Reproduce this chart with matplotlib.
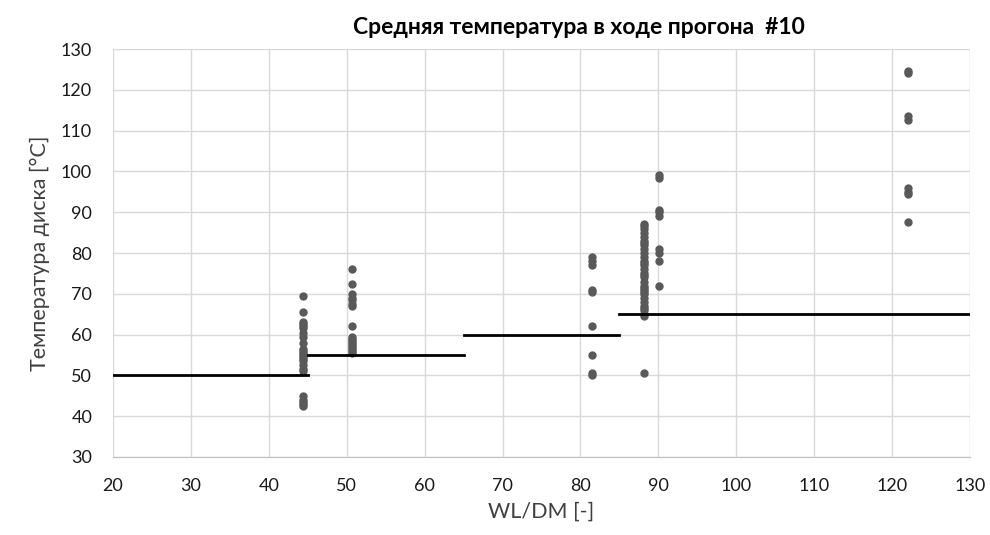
import numpy as np
import matplotlib
matplotlib.use("Agg")
import matplotlib.pyplot as plt

plt.rcParams["font.family"] = ["Lato", "DejaVu Sans"]

# measured points, grouped by WL/DM value
x_groups = [44.4, 50.7, 81.5, 88.2, 90.1, 122.1]
y_groups = [
    [69.5, 65.5, 63, 62.5, 62, 61.5, 60.5, 59.5, 58, 56.5, 56, 55.5, 55, 54.5,
     54, 53.5, 52.5, 51.5, 51, 45, 44, 43.5, 43, 42.5],
    [76, 72.5, 70, 69, 68.5, 67.5, 67, 62, 59.5, 59, 58.5, 58, 57.5, 57, 56.5,
     56, 55.5],
    [79, 78, 77, 71, 70.5, 62, 55, 50.5, 50],
    [87, 86.5, 86, 85, 84, 83, 82.5, 82, 81, 80, 79, 78, 77.5, 77, 76, 75, 74.5,
     74, 73, 72, 71.5, 71, 70.5, 70, 69, 68, 67, 66.5, 66, 65, 64.5, 50.5],
    [99, 98.5, 90.5, 90, 89, 81, 80, 78, 72],
    [124.5, 124, 113.5, 112.5, 96, 95, 94.5, 87.5],
]

# limit steps: (x_start, x_end, temperature)
step_x0 = [20, 45, 65, 85]
step_x1 = [45, 65, 85, 130]
step_y = [50, 55, 60, 65]

fig = plt.figure(figsize=(9.9, 5.35), dpi=100)
ax = fig.add_axes([0.1141, 0.1458, 0.8657, 0.7626])

for x, ys in zip(x_groups, y_groups):
    ax.plot([x] * len(ys), ys, "o", color="#595959", markersize=5, zorder=3,
            clip_on=False)

for x0, x1, y in zip(step_x0, step_x1, step_y):
    ax.plot([x0, x1], [y, y], color="black", lw=2, zorder=4)

ax.set_xlim(20, 130)
ax.set_ylim(30, 130)
ax.set_xticks(np.arange(20, 131, 10))
ax.set_yticks(np.arange(30, 131, 10))
ax.grid(True, color="#d9d9d9", lw=1)
ax.set_axisbelow(True)
for s in ax.spines.values():
    s.set_visible(False)
ax.spines["bottom"].set_visible(True)
ax.spines["bottom"].set_color("#bfbfbf")
ax.tick_params(length=0, labelsize=13, colors="#1a1a1a", pad=15)

ax.set_xlabel("WL/DM [-]", fontsize=15.5, color="#404040", labelpad=6)
ax.set_ylabel("Температура диска [°C]", fontsize=15.5, color="#404040", labelpad=8)
fig.text(579 / 990, 1 - 27 / 535, "Средняя температура в ходе прогона  #10",
         fontsize=16.5, fontweight="bold", ha="center", va="center")

fig.savefig("out.png")
